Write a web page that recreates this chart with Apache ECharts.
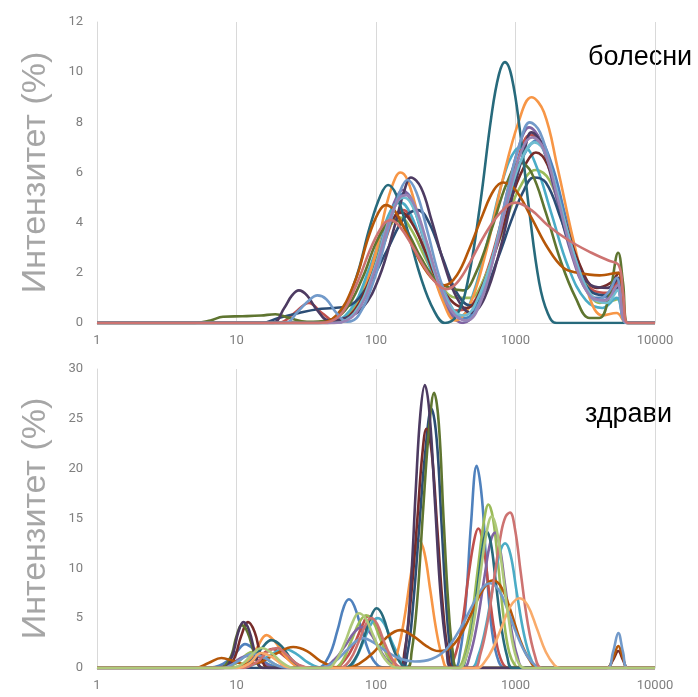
<!DOCTYPE html>
<html lang="bg">
<head>
<meta charset="UTF-8">
<title>Интензитет</title>
<script src="https://cdn.jsdelivr.net/npm/echarts@6/dist/echarts.min.js"></script>
<style>
  html, body { margin: 0; padding: 0; background: #fff; }
  #chart { width: 698px; height: 697px; }
</style>
</head>
<body>
<div id="chart"></div>
<script>
// болесни (top panel) - [size, intensity %]
const b01 = [[1,0],[45,0],[65,0.3],[90,1.6],[115,3.6],[140,4.9],[162,5.2],[190,4.6],[230,3.0],[290,1.2],[360,0.3],[440,0.2],[560,1.1],[720,3.0],[900,5.0],[1150,6.7],[1450,7.3],[1800,6.4],[2300,4.2],[3000,2.0],[3800,1.0],[4700,1.1],[5400,1.6],[6300,0],[10000,0]];
const b02 = [[1,0],[20,0],[26,0.4],[33,0.8],[41,0.4],[52,0.05],[68,0.3],[90,1.5],[115,3.2],[138,4.3],[157,4.5],[185,4.0],[230,2.7],[290,1.3],[370,0.5],[460,0.6],[600,1.8],[780,3.9],[980,6.0],[1280,7.5],[1600,6.9],[2100,4.6],[2800,2.3],[3600,1.3],[4600,1.2],[5500,1.7],[6300,0],[10000,0]];
const b03 = [[1,0],[45,0],[65,0.4],[88,1.8],[112,3.4],[135,4.1],[150,4.2],[180,3.7],[230,2.5],[300,1.4],[380,1.0],[470,1.0],[600,1.8],[800,3.6],[1050,5.3],[1400,6.1],[1750,5.7],[2300,3.9],[3100,1.8],[4000,0.8],[5000,0.9],[5700,1.0],[6300,0],[10000,0]];
const b04 = [[1,0],[50,0],[70,0.4],[95,2.0],[120,4.0],[140,5.0],[155,5.3],[180,4.8],[220,3.3],[280,1.4],[350,0.3],[420,0],[520,0.5],[680,2.4],[870,5.2],[1080,7.2],[1250,7.8],[1500,7.3],[1900,5.3],[2500,2.8],[3300,1.2],[4300,0.9],[5300,1.4],[6300,0],[10000,0]];
const b05 = [[1,0],[45,0],[65,0.5],[90,2.2],[115,3.9],[135,4.7],[150,4.8],[175,4.4],[215,3.1],[270,1.6],[340,0.6],[410,0.3],[500,1.2],[640,3.4],[820,5.8],[1000,6.9],[1150,7.0],[1400,6.3],[1800,4.4],[2400,2.2],[3200,0.9],[4200,0.6],[5300,1.0],[6300,0],[10000,0]];
const b06 = [[1,0],[50,0],[70,0.5],[95,2.4],[120,4.8],[138,5.8],[150,6.0],[168,5.7],[200,4.3],[245,2.4],[300,0.9],[370,0.1],[460,0.6],[600,2.6],[800,5.6],[1050,8.0],[1300,9.0],[1600,8.4],[2000,6.2],[2600,3.3],[3300,1.2],[4200,0.3],[5300,0.4],[6300,0],[10000,0]];
const b07 = [[1,0],[15,0],[20,0.2],[28,0.4],[38,0.55],[50,0.6],[65,0.7],[90,1.6],[120,2.9],[160,4.2],[200,4.5],[240,4.0],[300,2.6],[380,1.2],[470,0.7],[580,1.1],[750,2.6],[950,4.2],[1150,5.3],[1350,5.8],[1650,5.6],[2100,4.2],[2800,2.2],[3600,1.2],[4600,1.1],[5500,1.5],[6400,0],[10000,0]];
const b08 = [[1,0],[45,0],[65,0.3],[90,1.7],[115,3.4],[138,4.3],[152,4.4],[180,4.0],[220,3.0],[280,1.6],[360,0.8],[450,0.6],[570,1.4],[750,3.2],[980,5.3],[1200,6.4],[1400,6.8],[1700,6.3],[2200,4.3],[2900,2.3],[3800,1.4],[4800,1.6],[5500,2.0],[6400,0],[10000,0]];
const b09 = [[1,0],[5,0],[6.5,0.1],[8,0.25],[11,0.27],[15,0.3],[19,0.35],[24,0.2],[32,0.05],[45,0.1],[60,0.5],[80,1.8],[100,3.2],[122,4.0],[138,4.1],[165,3.7],[210,2.6],[270,1.7],[340,1.4],[420,1.3],[520,2.0],[680,3.8],[870,5.6],[1080,6.4],[1300,6.0],[1650,4.4],[2100,2.5],[2700,1.0],[3400,0.2],[4000,0.2],[4700,1.1],[5450,2.8],[5900,1.6],[6400,0],[10000,0]];
const b10 = [[1,0],[18,0],[22,0.6],[25,1.1],[28,1.3],[32,1.1],[38,0.5],[46,0.1],[60,0.2],[80,0.6],[105,1.8],[135,3.8],[160,5.3],[178,5.8],[210,5.4],[250,4.1],[310,2.3],[380,1.0],[480,0.4],[600,1.0],[780,3.0],[1000,5.6],[1150,6.8],[1300,7.6],[1550,7.1],[1950,5.2],[2600,2.8],[3500,1.5],[4600,1.4],[5500,1.8],[6400,0],[10000,0]];
const b11 = [[1,0],[40,0],[55,0.4],[72,1.8],[90,3.8],[108,5.1],[122,5.5],[140,5.1],[170,3.6],[210,1.8],[260,0.5],[312,0],[380,0.3],[460,1.8],[560,4.8],[670,8.2],[760,9.9],[840,10.4],[940,9.8],[1080,7.6],[1260,4.4],[1480,1.6],[1700,0.4],[1970,0],[10000,0]];
const b12 = [[1,0],[38,0],[52,0.3],[70,1.6],[88,3.4],[104,4.4],[117,4.7],[135,4.5],[165,3.6],[210,2.4],[260,1.7],[310,1.5],[380,1.9],[470,3.0],[580,4.3],[700,5.3],[815,5.6],[1000,5.3],[1300,4.2],[1700,3.0],[2200,2.2],[2800,2.0],[4000,1.9],[5400,2.0],[5900,1.0],[6300,0],[10000,0]];
const b13 = [[1,0],[22,0],[28,0.5],[33,0.9],[38,1.1],[44,0.95],[52,0.4],[62,0.05],[75,0.3],[98,1.8],[125,3.9],[150,5.3],[168,5.7],[195,5.2],[235,3.6],[290,1.7],[360,0.5],[440,0.1],[540,0.7],[700,2.8],[880,5.3],[1080,7.2],[1265,8.0],[1500,7.6],[1850,5.9],[2400,3.5],[3100,1.6],[3800,0.9],[4600,1.2],[5300,1.8],[6300,0],[10000,0]];
const b14 = [[1,0],[50,0],[70,0.4],[95,2.0],[122,4.0],[145,4.9],[160,5.0],[185,4.6],[225,3.2],[285,1.5],[360,0.5],[430,0.3],[530,0.9],[690,2.7],[880,4.9],[1120,6.6],[1370,7.2],[1650,6.7],[2100,4.7],[2700,2.5],[3500,1.1],[4500,0.8],[5400,1.3],[6300,0],[10000,0]];
const b15 = [[1,0],[50,0],[72,0.4],[98,2.1],[125,4.1],[148,5.0],[165,5.1],[192,4.6],[235,3.1],[295,1.3],[370,0.3],[450,0.1],[560,0.8],[720,2.9],[920,5.4],[1130,7.0],[1320,7.4],[1600,6.9],[2000,5.0],[2600,2.6],[3400,1.1],[4400,0.9],[5400,1.5],[6300,0],[10000,0]];
const b16 = [[1,0],[40,0],[55,0.3],[72,1.5],[92,3.0],[112,3.9],[128,4.1],[150,3.8],[185,3.0],[230,2.1],[280,1.5],[320,1.35],[380,1.6],[470,2.4],[600,3.5],[780,4.4],[1000,4.8],[1300,4.5],[1700,3.9],[2400,3.3],[3500,2.8],[4600,2.5],[5500,2.3],[5900,1.2],[6400,0],[10000,0]];

// здрави (bottom panel)
const z01 = [[1,0],[6,0],[8,0.4],[10,1.6],[11.5,2.4],[13.5,1.8],[16,0.6],[20,0.1],[38,0],[46,1.2],[53,3.8],[59,6.2],[64,6.9],[70,6.2],[80,3.6],[92,1.2],[108,0.1],[125,0],[360,0],[400,1.5],[440,6.5],[480,14.5],[527,20.3],[575,17],[620,10],[680,3.6],[760,0.6],[850,0],[10000,0]];
const z02 = [[1,0],[9,0],[12,0.4],[15,1.3],[18,1.9],[22,1.2],[27,0.3],[34,0],[50,0],[60,0.8],[70,2.4],[80,4.3],[88,5.2],[98,4.6],[112,2.4],[130,0.6],[150,0],[320,0],[360,0.8],[410,4.0],[460,9.2],[505,12.8],[541,14],[590,12.2],[650,7.4],[720,3.0],[800,0.6],[900,0],[10000,0]];
const z03 = [[1,0],[8,0],[10,0.5],[13,1.6],[16,1.0],[20,0.2],[26,0],[50,0],[58,0.8],[66,2.6],[76,4.6],[85,5.3],[95,4.7],[108,2.8],[125,0.8],[145,0],[380,0],[420,0.8],[480,4.6],[540,10.2],[595,14.8],[640,16.4],[690,15.0],[750,10.5],[820,5.2],[900,1.6],[1000,0.2],[1100,0],[10000,0]];
const z04 = [[1,0],[7,0],[9,0.4],[12,1.2],[15,0.6],[19,0],[40,0],[50,0.8],[60,2.2],[70,3.6],[79,4.1],[90,3.6],[105,2.0],[125,0.5],[150,0],[420,0],[470,1.2],[530,4.4],[600,9.2],[660,12.6],[713,13.6],[770,12.2],[840,8.4],[930,4.0],[1030,1.2],[1150,0],[10000,0]];
const z05 = [[1,0],[11,0],[14,0.5],[18,1.4],[22,1.9],[27,1.4],[33,0.5],[42,0],[62,0],[72,1.0],[83,3.0],[94,4.6],[103,5.0],[115,4.4],[132,2.4],[155,0.6],[180,0],[480,0],[540,1.2],[610,4.0],[690,8.2],[770,11.5],[841,12.5],[920,11.4],[1020,7.6],[1150,3.4],[1300,0.8],[1450,0],[10000,0]];
const z06 = [[1,0],[10,0],[12,0.6],[14,2.0],[16.4,3.3],[19,2.6],[23,1.0],[28,0.1],[34,0],[125,0],[140,1.2],[158,4.6],[178,9.4],[195,12.4],[204,12.8],[222,11.6],[245,7.8],[272,3.6],[300,1.0],[330,0],[10000,0]];
const z07 = [[1,0],[150,0],[168,1.5],[185,6.5],[205,14.5],[225,21.5],[250,26],[272,23],[295,14.5],[320,6],[345,1.4],[375,0],[10000,0]];
const z08 = [[1,0],[8,0],[9.5,0.8],[10.8,3.2],[12.1,4.6],[13.5,3.6],[15,1.2],[17,0],[145,0],[160,1.6],[178,7],[198,15],[215,21.5],[230,24],[250,21.8],[275,14],[302,6],[330,1.4],[360,0],[4500,0],[5000,0.8],[5460,1.7],[5900,0.8],[6400,0],[10000,0]];
const z09 = [[1,0],[7.5,0],[9,1.0],[10,3.2],[10.9,4.3],[12,3.6],[13.5,1.4],[15.5,0],[165,0],[180,1.6],[198,7],[218,16],[240,24],[261,27.6],[282,24.5],[305,15],[330,6.4],[355,1.6],[385,0],[10000,0]];
const z10 = [[1,0],[8,0],[9.3,1.2],[10.3,3.6],[11.2,4.6],[12.3,3.8],[13.8,1.2],[15.5,0],[150,0],[163,2],[178,8.5],[193,18],[208,25.5],[224,28.4],[242,25.5],[265,16.5],[290,7.5],[320,2],[350,0],[10000,0]];
const z11 = [[1,0],[10,0],[12.5,0.6],[15,1.9],[17.8,2.8],[21,2.2],[25,0.8],[30,0.1],[36,0],[60,0],[70,0.8],[80,2.6],[90,4.8],[101,6.0],[112,5.2],[128,2.6],[148,0.6],[170,0],[400,0],[440,1.0],[490,4.0],[540,8.6],[585,12.4],[621,13.7],[665,12.6],[720,8.8],[790,4.2],[870,1.2],[960,0],[10000,0]];
const z12 = [[1,0],[5,0],[6.3,0.5],[7.8,1.0],[9.5,0.7],[11.5,0.4],[15,0.6],[19,1.4],[25.5,2.1],[32,1.7],[40,0.7],[50,0.1],[62,0],[75,0.4],[95,1.5],[120,3.1],[149,3.8],[185,3.2],[230,2.2],[280,1.7],[330,1.9],[400,3.2],[480,5.4],[580,7.8],[693,8.8],[800,8.0],[930,5.6],[1080,2.8],[1250,0.9],[1450,0],[4500,0],[5000,1.0],[5460,2.2],[5900,1.0],[6400,0],[10000,0]];
const z13 = [[1,0],[8,0],[10,0.6],[13,1.4],[16,1.0],[20,0.2],[26,0],[40,0],[50,0.6],[62,1.8],[72,2.7],[81,3.0],[95,2.6],[115,1.8],[145,1.0],[190,0.65],[250,0.9],[320,1.9],[400,3.9],[480,6.0],[570,7.9],[660,8.5],[760,7.8],[880,5.8],[1020,3.4],[1200,1.3],[1400,0.2],[1550,0],[4500,0],[5000,1.6],[5460,3.5],[5900,1.6],[6400,0],[10000,0]];
const z14 = [[1,0],[11,0],[14,0.6],[17,1.7],[19.5,2.0],[23,1.3],[28,0.3],[35,0],[55,0],[65,0.8],[75,2.6],[84,4.3],[92,5.0],[102,4.4],[116,2.4],[135,0.6],[155,0],[500,0],[560,1.4],[630,4.6],[710,9.4],[790,13.6],[850,15.2],[913,15.6],[990,14],[1090,9.6],[1220,4.6],[1380,1.2],[1550,0],[10000,0]];
const z15 = [[1,0],[10,0],[12.5,0.5],[15,1.5],[18,1.1],[22,0.2],[27,0],[530,0],[600,0.6],[690,2.0],[800,4.2],[920,6.2],[1070,7.0],[1220,6.3],[1420,4.0],[1650,1.6],[1900,0.3],[2100,0],[10000,0]];
const z16 = [[1,0],[9,0],[11,0.4],[13,1.4],[15.1,2.0],[17.5,1.6],[21,0.6],[26,0],[45,0],[52,0.8],[60,2.6],[68,4.6],[75,5.5],[84,5.0],[96,3.2],[112,1.2],[130,0.2],[150,0],[390,0],[440,1.0],[500,4.4],[560,9.4],[620,13.6],[675,15.2],[730,14.0],[800,10.2],[880,5.6],[970,2.0],[1070,0.3],[1180,0],[10000,0]];

const topData = [b01, b02, b03, b04, b05, b06, b07, b08, b09, b10, b11, b12, b13, b14, b15, b16];
const topColors = ['#4F81BD','#C0504D','#9BBB59','#8064A2','#4BACC6','#F79646','#2C4D75','#772C2A',
                   '#5F7530','#4D3B62','#276A7C','#B65708','#729ACA','#6FBDD1','#9983B5','#CD7371'];
const botData = [z01, z02, z03, z04, z05, z06, z07, z08, z09, z10, z11, z12, z13, z14, z15, z16];
const botColors = ['#4F81BD','#C0504D','#9BBB59','#8064A2','#4BACC6','#F79646','#2C4D75','#772C2A',
                   '#5F7530','#4D3B62','#276A7C','#B65708','#729ACA','#CD7371','#F9AB6B','#AFC97A'];

const chart = echarts.init(document.getElementById('chart'));

const gray = '#d9d9d9';
const labelStyle = { color: '#7f7f7f', fontSize: 13, fontFamily: 'Roboto' };

function xAxis(gridIndex) {
  return {
    type: 'log', logBase: 10, min: 1, max: 10000, gridIndex: gridIndex,
    axisLine: { show: true, lineStyle: { color: gray } },
    axisTick: { show: false },
    axisLabel: Object.assign({ margin: 11, formatter: function (v) { return String(v); } }, labelStyle),
    splitLine: { show: true, lineStyle: { color: gray } }
  };
}
function yAxis(gridIndex, max, interval) {
  return {
    type: 'value', min: 0, max: max, interval: interval, gridIndex: gridIndex,
    name: 'Интензитет (%)', nameLocation: 'middle', nameGap: 44,
    nameTextStyle: { color: '#a6a6a6', fontSize: 34, fontFamily: 'Liberation Sans' },
    axisLine: { show: true, lineStyle: { color: gray } },
    axisTick: { show: false },
    axisLabel: Object.assign({ margin: 14 }, labelStyle),
    splitLine: { show: false }
  };
}

let series = [];
topData.forEach(function (d, i) {
  series.push({ type: 'line', xAxisIndex: 0, yAxisIndex: 0, data: d, smooth: 0.4,
    showSymbol: false, lineStyle: { width: 2.6, color: topColors[i] }, color: topColors[i] });
});
botData.forEach(function (d, i) {
  series.push({ type: 'line', xAxisIndex: 1, yAxisIndex: 1, data: d, smooth: 0.4,
    showSymbol: false, lineStyle: { width: 2.6, color: botColors[i] }, color: botColors[i] });
});

chart.setOption({
  animation: false,
  backgroundColor: '#fff',
  grid: [
    { left: 97, right: 43, top: 22, height: 301 },
    { left: 97, right: 43, top: 369, height: 299 }
  ],
  xAxis: [xAxis(0), xAxis(1)],
  yAxis: [yAxis(0, 12, 2), yAxis(1, 30, 5)],
  graphic: [
    { type: 'text', left: 588, top: 44, style: { text: 'болесни', fill: '#000', fontSize: 27, fontFamily: 'Liberation Sans' } },
    { type: 'text', left: 585, top: 401, style: { text: 'здрави', fill: '#000', fontSize: 27, fontFamily: 'Liberation Sans' } }
  ],
  series: series
});
</script>
</body>
</html>
